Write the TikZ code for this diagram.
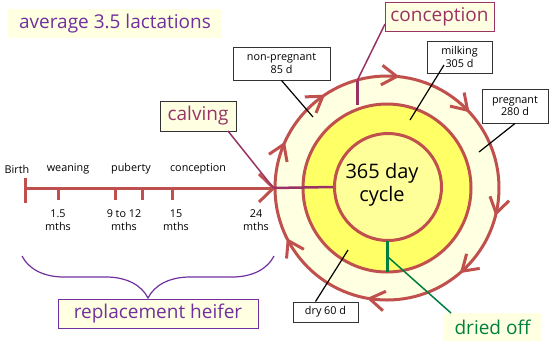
\documentclass[tikz,border=0pt]{standalone}
\usepackage{fontspec}
\setmainfont{Open Sans}
\usetikzlibrary{decorations.pathreplacing,calc}
\definecolor{cred}{RGB}{192,80,77}
\definecolor{cpurple}{RGB}{112,48,160}
\definecolor{cmaroon}{RGB}{153,51,102}
\definecolor{cgreen}{RGB}{0,128,64}
\definecolor{lightbox}{RGB}{255,255,225}
\definecolor{ringout}{RGB}{255,255,225}
\definecolor{ringmid}{RGB}{255,255,102}
\definecolor{ringin}{RGB}{255,255,153}
\tikzset{
  bigtxt/.style={font=\fontsize{19}{21}\selectfont},
  smalltxt/.style={font=\fontsize{10.8}{12.5}\selectfont, align=center, inner sep=0pt},
  infobox/.style={draw=black!80, line width=0.9pt, fill=white, font=\fontsize{10.8}{12.5}\selectfont, align=center, inner sep=0pt},
  ring/.style={circle, draw=cred, line width=3pt, inner sep=0pt},
  chev/.style={cred, line width=3pt},
  leader/.style={black, line width=1.2pt},
  tick/.style={cred, line width=3pt}
}
\begin{document}
\begin{tikzpicture}[x=1pt,y=-1pt]
\useasboundingbox (0,0) rectangle (549,341);
% circles
\node[ring, fill=ringout, minimum size=224pt] (outer) at (387,188) {};
\node[ring, fill=ringmid, minimum size=168pt] (middle) at (387,188) {};
\node[ring, fill=ringin, minimum size=107pt] (inner) at (388,187) {};
\node[font=\fontsize{20}{23}\selectfont, align=center] (cycle) at (382,185) {365 day\\cycle};
% arrows on outer circle
\foreach \a in {13,48,99,152,203,235,275,316}{
  \draw[chev] ($(387,188)+(\a:112)+(\a-57:18)$) -- ($(387,188)+(\a:112)$) -- ($(387,188)+(\a:112)+(\a-123:18)$);
}
% timeline
\coordinate (birth) at (25,188);
\draw[tick] (birth) -- (outer.west);
\draw[tick] (25,178) -- (25,203);
\foreach \x in {58,115,142,172}{ \draw[tick] (\x,188) -- (\x,200); }
\draw[chev] (259,174) -- (outer.west) -- (259,202);
\node[smalltxt] (lbirth) at (17,169) {Birth};
\node[smalltxt] (lwean) at (68,169) {weaning};
\node[smalltxt] (lpub) at (131,169) {puberty};
\node[smalltxt] (lconc) at (198,169) {conception};
\node[smalltxt] (m1) at (58,220) {1.5\\mths};
\node[smalltxt] (m2) at (124,220) {9 to 12\\mths};
\node[smalltxt] (m3) at (176,220) {15\\mths};
\node[smalltxt] (m4) at (256,220) {24\\mths};
% calving
\node[bigtxt, draw=black!80, line width=0.9pt, fill=lightbox, text=cmaroon, minimum width=76pt, minimum height=30pt, inner sep=0pt] (calving) at (198,116) {calving};
\coordinate (calvs) at (228,131);
\draw[cmaroon, line width=1.5pt] (calvs) -- (outer.west);
\draw[cmaroon, line width=2.5pt] (outer.west) -- (inner.west);
% conception
\node[bigtxt, draw=cmaroon, line width=0.9pt, fill=lightbox, text=cmaroon, minimum width=109pt, minimum height=29pt, inner sep=0pt] (concept) at (439.5,16.5) {conception};
\coordinate (cA) at (357,81);
\coordinate (cB) at (357,105);
\coordinate (cS) at (385,24);
\draw[cmaroon, line width=1.5pt] (cS) -- (cA);
\draw[cmaroon, line width=3pt] (cA) -- (cB);
% dried off
\node[bigtxt, fill=lightbox, text=cgreen, minimum width=99pt, minimum height=28pt, inner sep=0pt] (dried) at (492.5,327) {dried off};
\coordinate (dA) at (387,241);
\coordinate (dB) at (387,272);
\coordinate (dM) at (388,257);
\coordinate (dE) at (451,313);
\draw[cgreen, line width=1.5pt] (dM) -- (dE);
\draw[cgreen, line width=3pt] (dA) -- (dB);
% info boxes
\node[infobox, minimum width=97pt, minimum height=33pt] (nonp) at (281.5,63.5) {non-pregnant\\85 d};
\node[infobox, minimum width=65pt, minimum height=32pt] (milk) at (459.5,57) {milking\\305 d};
\node[infobox, minimum width=66pt, minimum height=34pt] (preg) at (515,106) {pregnant\\280 d};
\node[infobox, minimum width=65pt, minimum height=20pt] (dry) at (325.5,312) {dry 60 d};
\coordinate (nE) at (313,117);
\coordinate (mS) at (444,65);
\coordinate (mE) at (410,120);
\coordinate (pE) at (479,152);
\coordinate (dryE) at (348,250);
\draw[leader] (nonp.south) -- (nE);
\draw[leader] (mS) -- (mE);
\draw[leader] (preg.south) -- (pE);
\draw[leader] ($(dry.north)+(-10,0)$) -- (dryE);
% average
\node[bigtxt, fill=lightbox, text=cpurple, minimum width=214pt, minimum height=29pt, inner sep=0pt] (avg) at (115,23.5) {average 3.5 lactations};
% brace + heifer
\coordinate (bL) at (22,256);
\coordinate (bR) at (274,256);
\draw[cpurple, line width=1.2pt, decorate, decoration={brace, mirror, amplitude=42pt}] (bL) -- (bR);
\node[bigtxt, draw=cpurple, line width=0.9pt, fill=lightbox, text=cpurple, minimum width=200pt, minimum height=29pt, inner sep=0pt] (heifer) at (158,313.5) {replacement heifer};
\end{tikzpicture}
\end{document}
